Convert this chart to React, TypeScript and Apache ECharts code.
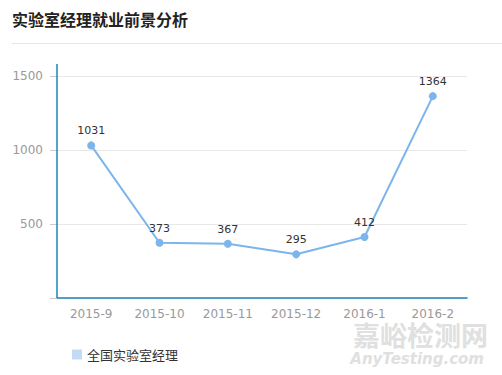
import React, { useEffect, useRef } from "react";
import * as echarts from "echarts";

const titleText = "实验室经理就业前景分析";
const seriesName = "全国实验室经理";
const categories = ["2015-9", "2015-10", "2015-11", "2015-12", "2016-1", "2016-2"];
const values = [1031, 373, 367, 295, 412, 1364];
const yTicks = [0, 500, 1000, 1500];

export default function App() {
  const ref = useRef<HTMLDivElement>(null);
  useEffect(() => {
    if (!ref.current) return;
    const chart = echarts.init(ref.current, undefined, { renderer: "svg" });
    const font = "'Microsoft YaHei', 'Noto Sans CJK SC', sans-serif";
    const numFont = "'DejaVu Sans', sans-serif";
    chart.setOption({
      animation: false,
      textStyle: { fontFamily: font },
      title: {
        text: titleText,
        left: 7,
        top: 6,
        textStyle: { fontSize: 16, fontWeight: "bold", color: "#222", fontFamily: font },
      },
      grid: { left: 57, right: 35, top: 76, bottom: 77 },
      legend: {
        left: 67,
        bottom: 9,
        itemWidth: 10,
        itemHeight: 10,
        itemGap: 6,
        icon: "rect",
        textStyle: { fontSize: 13, color: "#333" },
        data: [{ name: seriesName, itemStyle: { color: "#c4dcf3" } }],
      },
      xAxis: {
        type: "category",
        data: categories,
        axisLine: { lineStyle: { color: "#1786b8", width: 1.5 } },
        axisTick: { alignWithLabel: true, length: 5, lineStyle: { color: "#1786b8" } },
        axisLabel: { color: "#999", fontSize: 12, lineHeight: 13, margin: 9, fontFamily: numFont },
      },
      yAxis: {
        type: "value",
        min: yTicks[0],
        max: yTicks[yTicks.length - 1],
        interval: 500,
        axisLine: { show: false },
        axisTick: { show: true, length: 7, lineStyle: { color: "#ccc" } },
        axisLabel: {
          color: "#999",
          fontSize: 12,
          margin: 14,
          fontFamily: numFont,
          formatter: (v: number) => (v === 0 ? "" : String(v)),
        },
        splitLine: { lineStyle: { color: "#e8e8e8" } },
      },
      graphic: [
        {
          type: "line",
          shape: { x1: 12, y1: 43.5, x2: 502, y2: 43.5 },
          style: { stroke: "#e6e6e6", lineWidth: 1 },
        },
        {
          type: "line",
          shape: { x1: 57, y1: 64, x2: 57, y2: 298 },
          style: { stroke: "#1786b8", lineWidth: 1.5 },
          z: 10,
        },
        {
          type: "text",
          right: 14,
          bottom: 27,
          style: {
            text: "嘉峪检测网",
            fill: "#e0e0e0",
            font: "bold 27px 'Noto Sans CJK SC'",
            lineHeight: 26,
          },
        },
        {
          type: "text",
          right: 18,
          bottom: 8,
          style: {
            text: "AnyTesting.com",
            fill: "#e0e0e0",
            font: "italic bold 15px 'DejaVu Sans'",
            lineHeight: 16,
          },
        },
      ],
      series: [
        {
          name: seriesName,
          type: "line",
          data: values,
          symbol: "circle",
          symbolSize: 8,
          lineStyle: { color: "#7cb5ec", width: 2 },
          itemStyle: { color: "#7cb5ec" },
          label: {
            show: true,
            position: "top",
            color: "#333",
            fontSize: 11,
            fontFamily: numFont,
            distance: 5,
          },
        },
      ],
    });
    return () => chart.dispose();
  }, []);
  return (
    <div
      ref={ref}
      style={{ position: "fixed", left: 0, top: 0, width: 502, height: 375, background: "#fff" }}
    />
  );
}
